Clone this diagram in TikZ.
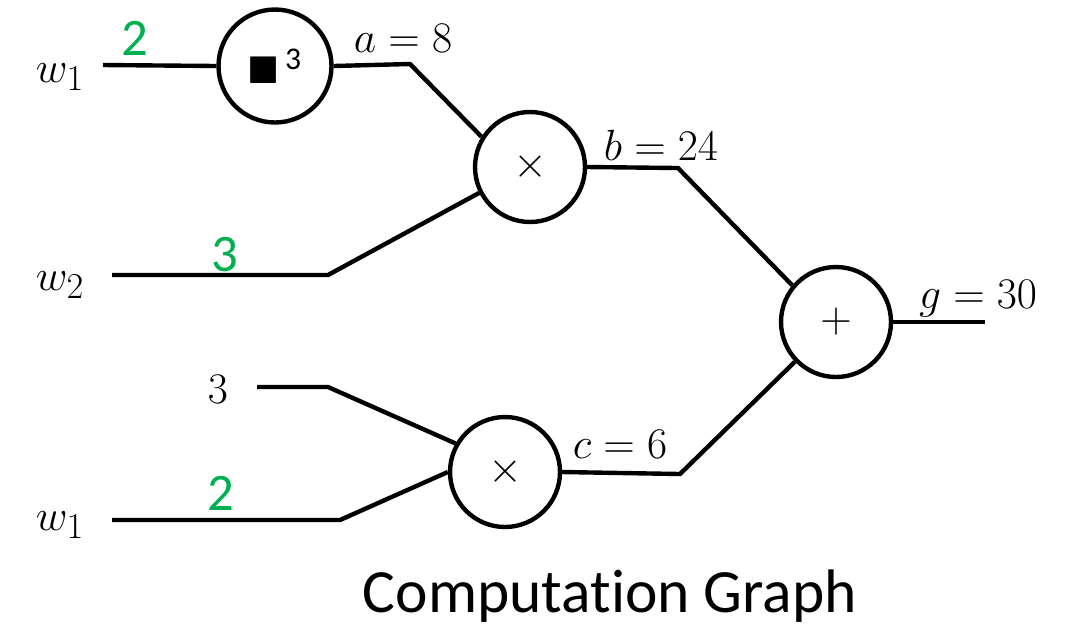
\documentclass[tikz,border=0pt]{standalone}
\usepackage{amsmath}
\usepackage{amssymb}
\usepackage[no-math]{fontspec}
\setmainfont{Carlito}[Ligatures=NoCommon]
\usetikzlibrary{positioning}

\definecolor{gradgreen}{RGB}{0,176,80}

\begin{document}
\begin{tikzpicture}[x=0.02cm, y=-0.02cm,
	op/.style={draw, circle, line width=2.5pt, minimum size=2.2cm, inner sep=0pt,
		font=\fontsize{28}{32}\selectfont},
	wire/.style={line width=2.5pt},
	val/.style={anchor=base, font=\fontsize{28}{32}\selectfont},
	grad/.style={text=gradgreen, font=\fontsize{30}{34}\selectfont}]

\useasboundingbox (0,0) rectangle (1074,627);

% operation nodes
\node [op, minimum size=2.26cm, font=\fontsize{22}{26}\selectfont] (cube) at (275,66)
	{$\blacksquare$\,\raisebox{8pt}{\fontsize{18}{20}\selectfont 3}};
\node [op] (mulab) at (530,167) {$\times$};
\node [op] (add)   at (836,322) {$+$};
\node [op] (mulc)  at (505,472) {$\times$};

% inputs
\node [val] (w1top) at (60,82)  {$w_1$};
\node [val] (w2)    at (60,290) {$w_2$};
\node [val] (three) at (218,403) {$3$};
\node [val] (w1bot) at (60,530) {$w_1$};

\coordinate (w1topin)   at (103,65);
\coordinate (w2in)      at (112,275);
\coordinate (w2bend)    at (328,275);
\coordinate (threein)   at (257,387);
\coordinate (threebend) at (328,387);
\coordinate (w1botin)   at (112,520);
\coordinate (w1botbend) at (340,520);

% intermediate values
\coordinate (abend) at (410,64);
\coordinate (bbend) at (678,168);
\coordinate (cbend) at (680,474);
\coordinate (gout)  at (985,322);

\path [draw, wire] (w1topin) -- (cube.west);
\path [draw, wire] (cube.east) -- (abend) -- (mulab.148);
\path [draw, wire] (w2in) -- (w2bend) -- (mulab.207);
\path [draw, wire] (mulab.east) -- (bbend) -- (add.140);
\path [draw, wire] (threein) -- (threebend) -- (mulc.150);
\path [draw, wire] (w1botin) -- (w1botbend) -- (mulc.west);
\path [draw, wire] (mulc.east) -- (cbend) -- (add.224);
\path [draw, wire] (add.east) -- (gout);

% value labels
\node [val] (aval) at (403,52)  {$a = 8$};
\node [val] (bval) at (661,160) {$b = 24$};
\node [val] (cval) at (620,458) {$c = 6$};
\node [val] (gval) at (978,308) {$g = 30$};

% gradients
\node [grad] (g1top) at (135,38)  {2};
\node [grad] (g2)    at (225,255) {3};
\node [grad] (g1bot) at (221,493) {2};

\node [inner sep=0pt, font=\fontsize{35}{40}\selectfont] (title) at (610,596) {Computation Graph};

\end{tikzpicture}
\end{document}
